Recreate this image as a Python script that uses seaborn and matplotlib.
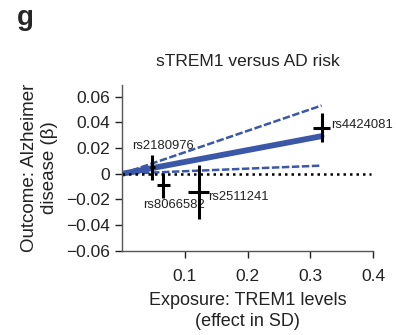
import matplotlib
matplotlib.use("Agg")
import matplotlib.pyplot as plt
import numpy as np
import pandas as pd
import seaborn as sns

# SNP level estimates
snps = ["rs2180976", "rs8066582", "rs2511241", "rs4424081"]
beta_exposure = [0.048, 0.066, 0.122, 0.318]
se_exposure = [0.004, 0.010, 0.016, 0.014]
beta_outcome = [0.005, -0.009, -0.014, 0.036]
se_outcome = [0.010, 0.0095, 0.021, 0.011]
label_x = [0.016, 0.033, 0.137, 0.333]
label_y = [0.0215, -0.024, -0.018, 0.0377]

# MR slope with confidence bounds
slope_est = 0.092
slope_low = 0.020
slope_high = 0.167

BLUE = "#3b57a8"
TXT = "#222222"

sns.set_theme(style="ticks")
plt.rcParams["font.family"] = ["Liberation Sans", "DejaVu Sans"]

fig = plt.figure(figsize=(3.96, 3.35), dpi=100)
ax = fig.add_axes([0.308, 0.251, 0.634, 0.495])

x_fit = np.array([0.0, max(beta_exposure)])
sns.lineplot(x=x_fit, y=slope_high * x_fit, ax=ax, color=BLUE, linewidth=1.8,
             linestyle=(0, (3, 1)))
sns.lineplot(x=x_fit, y=slope_low * x_fit, ax=ax, color=BLUE, linewidth=1.8,
             linestyle=(0, (3, 1)))
sns.lineplot(x=x_fit, y=slope_est * x_fit, ax=ax, color=BLUE, linewidth=4.2)
sns.lineplot(x=[0.0, 0.396], y=[0.0, 0.0], ax=ax, color="black", linewidth=1.8,
             linestyle=(0, (1, 1.6)))

df = pd.DataFrame({"snp": snps, "bx": beta_exposure, "sx": se_exposure,
                   "by": beta_outcome, "sy": se_outcome})
ax.errorbar(df["bx"], df["by"], xerr=df["sx"], yerr=df["sy"], fmt="none",
            ecolor="black", elinewidth=2.2, capsize=0, zorder=5)

for name, tx, ty in zip(snps, label_x, label_y):
    ax.text(tx, ty, name, fontsize=9.4, ha="left", va="center", color=TXT)

ax.set_xlim(0, 0.4)
ax.set_ylim(-0.06, 0.069)
ax.set_xticks([0.1, 0.2, 0.3, 0.4])
ax.set_xticklabels(["0.1", "0.2", "0.3", "0.4"])
ax.set_yticks([-0.06, -0.04, -0.02, 0, 0.02, 0.04, 0.06])
ax.set_yticklabels(["\u22120.06", "\u22120.04", "\u22120.02", "0", "0.02", "0.04", "0.06"])
ax.tick_params(labelsize=12.5, colors=TXT, length=5, width=1)
ax.tick_params(axis="x", pad=8)
for side in ["left", "bottom"]:
    ax.spines[side].set_color("#555555")
    ax.spines[side].set_linewidth(1)
sns.despine(ax=ax)

ax.set_xlabel("Exposure: TREM1 levels\n(effect in SD)", fontsize=13, color=TXT,
              labelpad=6, linespacing=1.3)
ax.set_ylabel("Outcome: Alzheimer\ndisease (\u03b2)", fontsize=13.5, color=TXT,
              labelpad=6, linespacing=1.25)
ax.set_title("sTREM1 versus AD risk", fontsize=12.5, color=TXT, pad=14)

fig.text(0.043, 0.945, "g", fontsize=20, fontweight="bold", ha="left", va="center")

fig.savefig("out.png", dpi=100)
